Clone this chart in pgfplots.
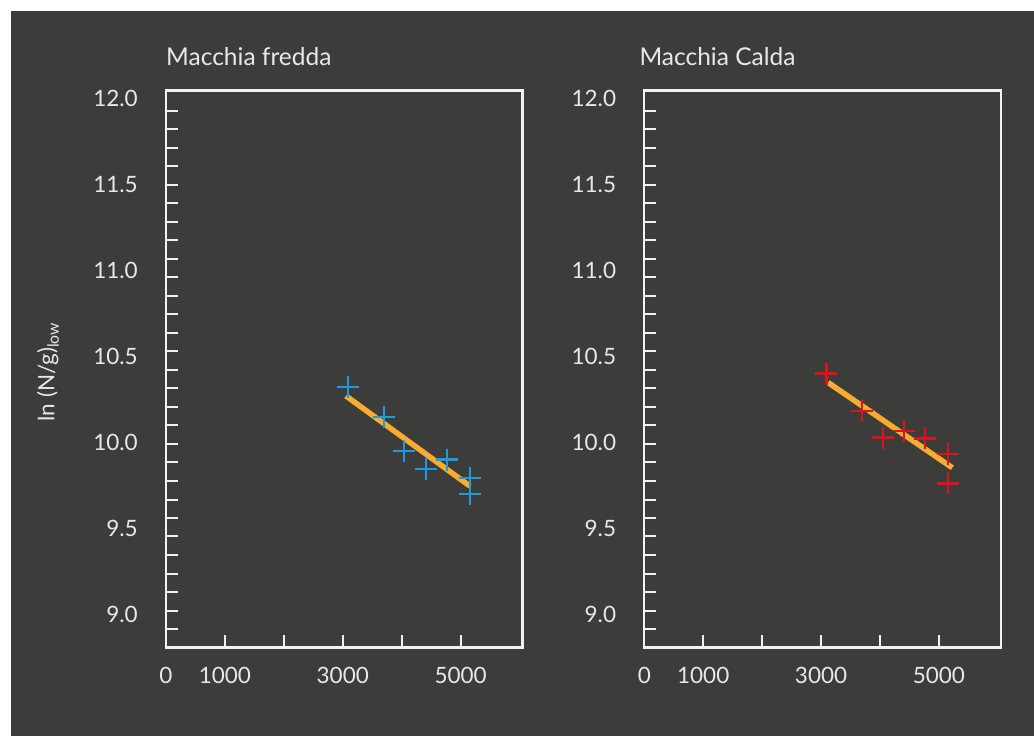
\documentclass[border=0pt]{standalone}
\usepackage{fontspec}
\setmainfont{Lato}
\usepackage{pgfplots}
\pgfplotsset{compat=1.18}
\definecolor{bg}{RGB}{60,60,58}
\definecolor{fg}{RGB}{242,242,242}
\definecolor{txt}{RGB}{232,232,232}
\definecolor{bluep}{RGB}{28,155,224}
\definecolor{redp}{RGB}{222,18,28}
\definecolor{fitc}{RGB}{247,172,48}
\pgfplotsset{
 panel/.style={
  scale only axis, width=356.5pt, height=557pt, anchor=south west,
  xmin=0, xmax=6050, ymin=8.805, ymax=12.0465,
  axis line style={fg, line width=2.2pt},
  tick align=inside, tick pos=left,
  xtick={0,1000,2000,3000,4000,5000},
  xticklabels={0,1000,,3000,,5000},
  ytick={9.0,9.5,10.0,10.5,11.0,11.5,12.0},
  yticklabels={9.0,9.5,10.0,10.5,11.0,11.5,12.0},
  minor ytick={11.930,11.822,11.714,11.607,11.499,11.391,11.283,11.176,11.068,10.960,10.852,10.744,10.637,10.529,10.421,10.313,10.205,10.098,9.990,9.882,9.774,9.666,9.559,9.451,9.343,9.235,9.127,9.020,8.912},
  major tick length=12pt, minor tick length=12pt,
  tick style={fg, line width=2pt},
  major y tick style={draw=none},
  tick label style={txt, font=\fontsize{22.5}{26}\selectfont, inner sep=0pt},
  xticklabel style={anchor=north, yshift=-20pt},
  yticklabel style={anchor=east, xshift=-28pt},
  title style={at={(rel axis cs:0,1)}, anchor=base west, yshift=19pt, inner sep=0pt, txt, font=\fontsize{24.5}{28}\selectfont},
 }
}
\begin{document}
\begin{tikzpicture}[x=1pt,y=1pt]
\useasboundingbox (0,0) rectangle (1034,736);
\fill[white] (0,0) rectangle (1034,736);
\fill[bg] (11,0) rectangle (1034,725);
\begin{axis}[panel, at={(166pt,88.5pt)}, title={Macchia fredda},
  ylabel={ln (N/g)\textsubscript{low}},
  ylabel style={at={(rel axis cs:0,0.5)}, anchor=center, rotate=0, yshift=118pt, xshift=-3pt, txt, font=\fontsize{22.5}{26}\selectfont}]
\addplot[fitc, line width=5.5pt] coordinates {(3054,10.269) (5159,9.744)};
\addplot[only marks, mark=+, mark size=11pt, bluep, mark options={line width=2.3pt}] coordinates {
(3083,10.322) (3699,10.147) (4044,9.949) (4407,9.845) (4768,9.899) (5154,9.791) (5154,9.698)};
\end{axis}
\begin{axis}[panel, at={(644.3pt,88.5pt)}, title={Macchia Calda}, title style={xshift=-5pt}]
\addplot[fitc, line width=5.5pt] coordinates {(3119,10.347) (5227,9.851)};
\addplot[only marks, mark=+, mark size=11pt, redp, mark options={line width=2.3pt}] coordinates {
(3091,10.399) (3695,10.180) (4046,10.027) (4407,10.064) (4769,10.022) (5153,9.930) (5153,9.760)};
\end{axis}
\end{tikzpicture}
\end{document}
